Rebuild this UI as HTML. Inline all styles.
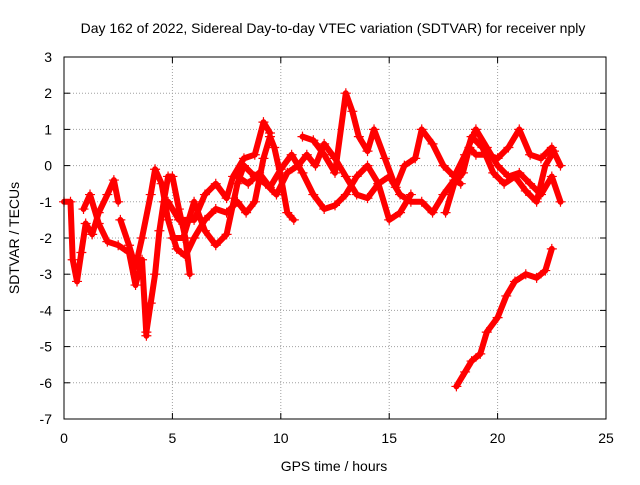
<!DOCTYPE html>
<html><head><meta charset="utf-8"><style>
body{margin:0;background:#fff}
svg{font-family:"Liberation Sans",sans-serif;font-size:14px}
</style></head><body>
<svg id="chart" width="640" height="480">
<text x="333" y="33" text-anchor="middle">Day 162 of 2022, Sidereal Day-to-day VTEC variation (SDTVAR) for receiver nply</text>
<text x="334" y="471" text-anchor="middle">GPS time / hours</text>
<text transform="translate(19,238) rotate(-90)" text-anchor="middle">SDTVAR / TECUs</text>
<g id="grid"></g><g id="ticks"></g><g id="series"></g>
<rect x="64" y="57" width="542" height="362" fill="none" stroke="#000"/>
</svg>
<script>
const xTicks=[0,5,10,15,20,25];
const yTicks=[3,2,1,0,-1,-2,-3,-4,-5,-6,-7];
const s1=[[0,-1],[0.3,-1],[0.4,-2.6],[0.6,-3.2],[0.8,-2.4],[1.0,-1.6],[1.3,-1.9],[1.6,-1.3],[2.0,-0.8],[2.3,-0.4],[2.5,-1.0]];
const s2=[[0.9,-1.2],[1.2,-0.8],[1.6,-1.6],[2.0,-2.1],[2.5,-2.2],[3.0,-2.4],[3.3,-3.3],[3.6,-2.6],[3.8,-4.7]];
const s3=[[3.8,-4.6],[4.0,-3.8],[4.2,-3.0],[4.4,-1.8],[4.6,-1.0],[4.8,-0.3],[5.0,-0.3],[5.3,-1.2],[5.6,-2.0],[5.8,-3.0]];
const s4=[[2.6,-1.5],[3.0,-2.2],[3.3,-2.8],[3.6,-2.0],[4.0,-0.8],[4.2,-0.1],[4.5,-0.5],[4.8,-1.5],[5.2,-2.3],[5.6,-2.5],[6.0,-2.0],[6.5,-1.5],[7.0,-1.2],[7.5,-1.3],[8.0,-1.0],[8.4,-1.3],[8.8,-1.0],[9.2,0.2],[9.5,0.8],[9.7,0.5],[10.0,-0.3],[10.3,-1.3],[10.6,-1.5]];
const s5=[[4.8,-1.0],[5.3,-1.5],[6.0,-1.5],[6.5,-0.8],[7.0,-0.5],[7.5,-0.9],[7.8,-0.3],[8.3,0.2],[8.8,0.3],[9.2,1.2],[9.5,0.9]];
const s6=[[5.0,-2.0],[5.5,-2.0],[6.0,-1.0],[6.5,-1.8],[7.0,-2.2],[7.5,-1.9],[8.0,-0.5],[8.3,0.0],[8.8,-0.3],[9.3,-0.5],[9.8,-0.8],[10.3,-0.2],[10.8,0.0],[11.2,0.3],[11.6,0.0],[12.0,0.6],[12.5,0.2],[13.0,-0.3],[13.5,-0.8],[14.0,-0.9],[14.5,-0.5],[15.0,-0.3],[15.5,-0.8],[16.0,-1.0],[16.5,-1.0],[17.0,-1.3],[17.5,-0.8],[18.0,-0.4],[18.3,-0.5]];
const s7=[[8.0,-0.3],[8.5,-0.5],[9.0,-0.2],[9.5,-0.6],[10.0,-0.1],[10.5,0.3],[11.0,-0.2],[11.5,-0.8],[12.0,-1.2],[12.5,-1.1],[13.0,-0.8],[13.5,-0.3],[14.0,0.0],[14.5,-0.5],[15.0,-1.5],[15.5,-1.3],[16.0,-0.8]];
const s8=[[11.0,0.8],[11.5,0.7],[12.0,0.3],[12.5,-0.2],[13.0,2.0],[13.3,1.5],[13.6,0.8],[14.0,0.4],[14.3,1.0],[14.8,0.2],[15.3,-0.6],[15.7,0.0],[16.2,0.2],[16.5,1.0],[17.0,0.6],[17.5,0.0],[18.0,-0.3],[18.5,0.3],[19.0,1.0],[19.5,0.5],[20.0,0.0],[20.5,-0.3],[21.0,-0.2],[21.5,-0.5],[22.0,-0.8],[22.5,-0.3],[22.9,-1.0]];
const s9=[[17.6,-1.3],[18.0,-0.5],[18.4,-0.2],[18.7,0.5],[19.0,0.3],[19.5,0.3],[20.0,0.2],[20.5,0.5],[21.0,1.0],[21.5,0.3],[22.0,0.2],[22.5,0.5],[22.9,0.0]];
const s10=[[18.3,-0.2],[18.8,0.8],[19.3,0.5],[19.8,-0.2],[20.3,-0.5],[20.8,-0.3],[21.3,-0.7],[21.8,-1.0],[22.2,0.0],[22.6,0.4]];
const s11=[[18.1,-6.1],[18.5,-5.7],[18.8,-5.4],[19.2,-5.2],[19.5,-4.6],[20.0,-4.2],[20.4,-3.6],[20.8,-3.2],[21.3,-3.0],[21.8,-3.1],[22.2,-2.9],[22.5,-2.3]];
const allSeries=[s1,s2,s3,s4,s5,s6,s7,s8,s9,s10,s11];
const X0=64,X1=606,Y0=57,Y1=419;
function sx(v){return X0+(v-0)/25*(X1-X0);}
function sy(v){return Y0+(3-v)/10*(Y1-Y0);}
const NS="http://www.w3.org/2000/svg";
function mk(t,a,p){const e=document.createElementNS(NS,t);for(const k in a)e.setAttribute(k,a[k]);p.appendChild(e);return e;}
const grid=document.getElementById('grid'),ticks=document.getElementById('ticks'),ser=document.getElementById('series');
xTicks.forEach(v=>{const x=sx(v);
 if(v>0&&v<25){const g=mk('line',{x1:x,x2:x,y1:Y0,y2:Y1,stroke:'#a0a0a0','stroke-dasharray':'1,2'},grid);
 
 }
 mk('line',{x1:x,x2:x,y1:Y1,y2:Y1-6,stroke:'#000'},ticks);
 mk('line',{x1:x,x2:x,y1:Y0,y2:Y0+6,stroke:'#000'},ticks);
 const t=mk('text',{x:x,y:Y1+24,'text-anchor':'middle'},ticks);t.textContent=v;
 
 });
yTicks.forEach(v=>{const y=sy(v);
 if(v<3&&v>-7){const g=mk('line',{x1:X0,x2:X1,y1:y,y2:y,stroke:'#a0a0a0','stroke-dasharray':'1,2'},grid);
 
 }
 mk('line',{x1:X0,x2:X0+6,y1:y,y2:y,stroke:'#000'},ticks);
 mk('line',{x1:X1,x2:X1-6,y1:y,y2:y,stroke:'#000'},ticks);
 const t=mk('text',{x:X0-12,y:y+5,'text-anchor':'end'},ticks);t.textContent=v;
 
 });
allSeries.forEach((s,i)=>{
 const g=mk('g',{},ser);
 
 
 const d=s.map((p,j)=>(j?'L':'M')+sx(p[0]).toFixed(1)+','+sy(p[1]).toFixed(1)).join('');
 mk('path',{d:d,fill:'none',stroke:'#ff0000','stroke-width':6,'stroke-linejoin':'round','stroke-linecap':'round'},g);
 s.forEach(p=>{const x=sx(p[0]),y=sy(p[1]);
  const m=mk('path',{d:`M${x-5},${y}h10M${x},${y-5}v10`,stroke:'#ff0000','stroke-width':1.2},g);
  
  });
});
</script>
</body></html>
